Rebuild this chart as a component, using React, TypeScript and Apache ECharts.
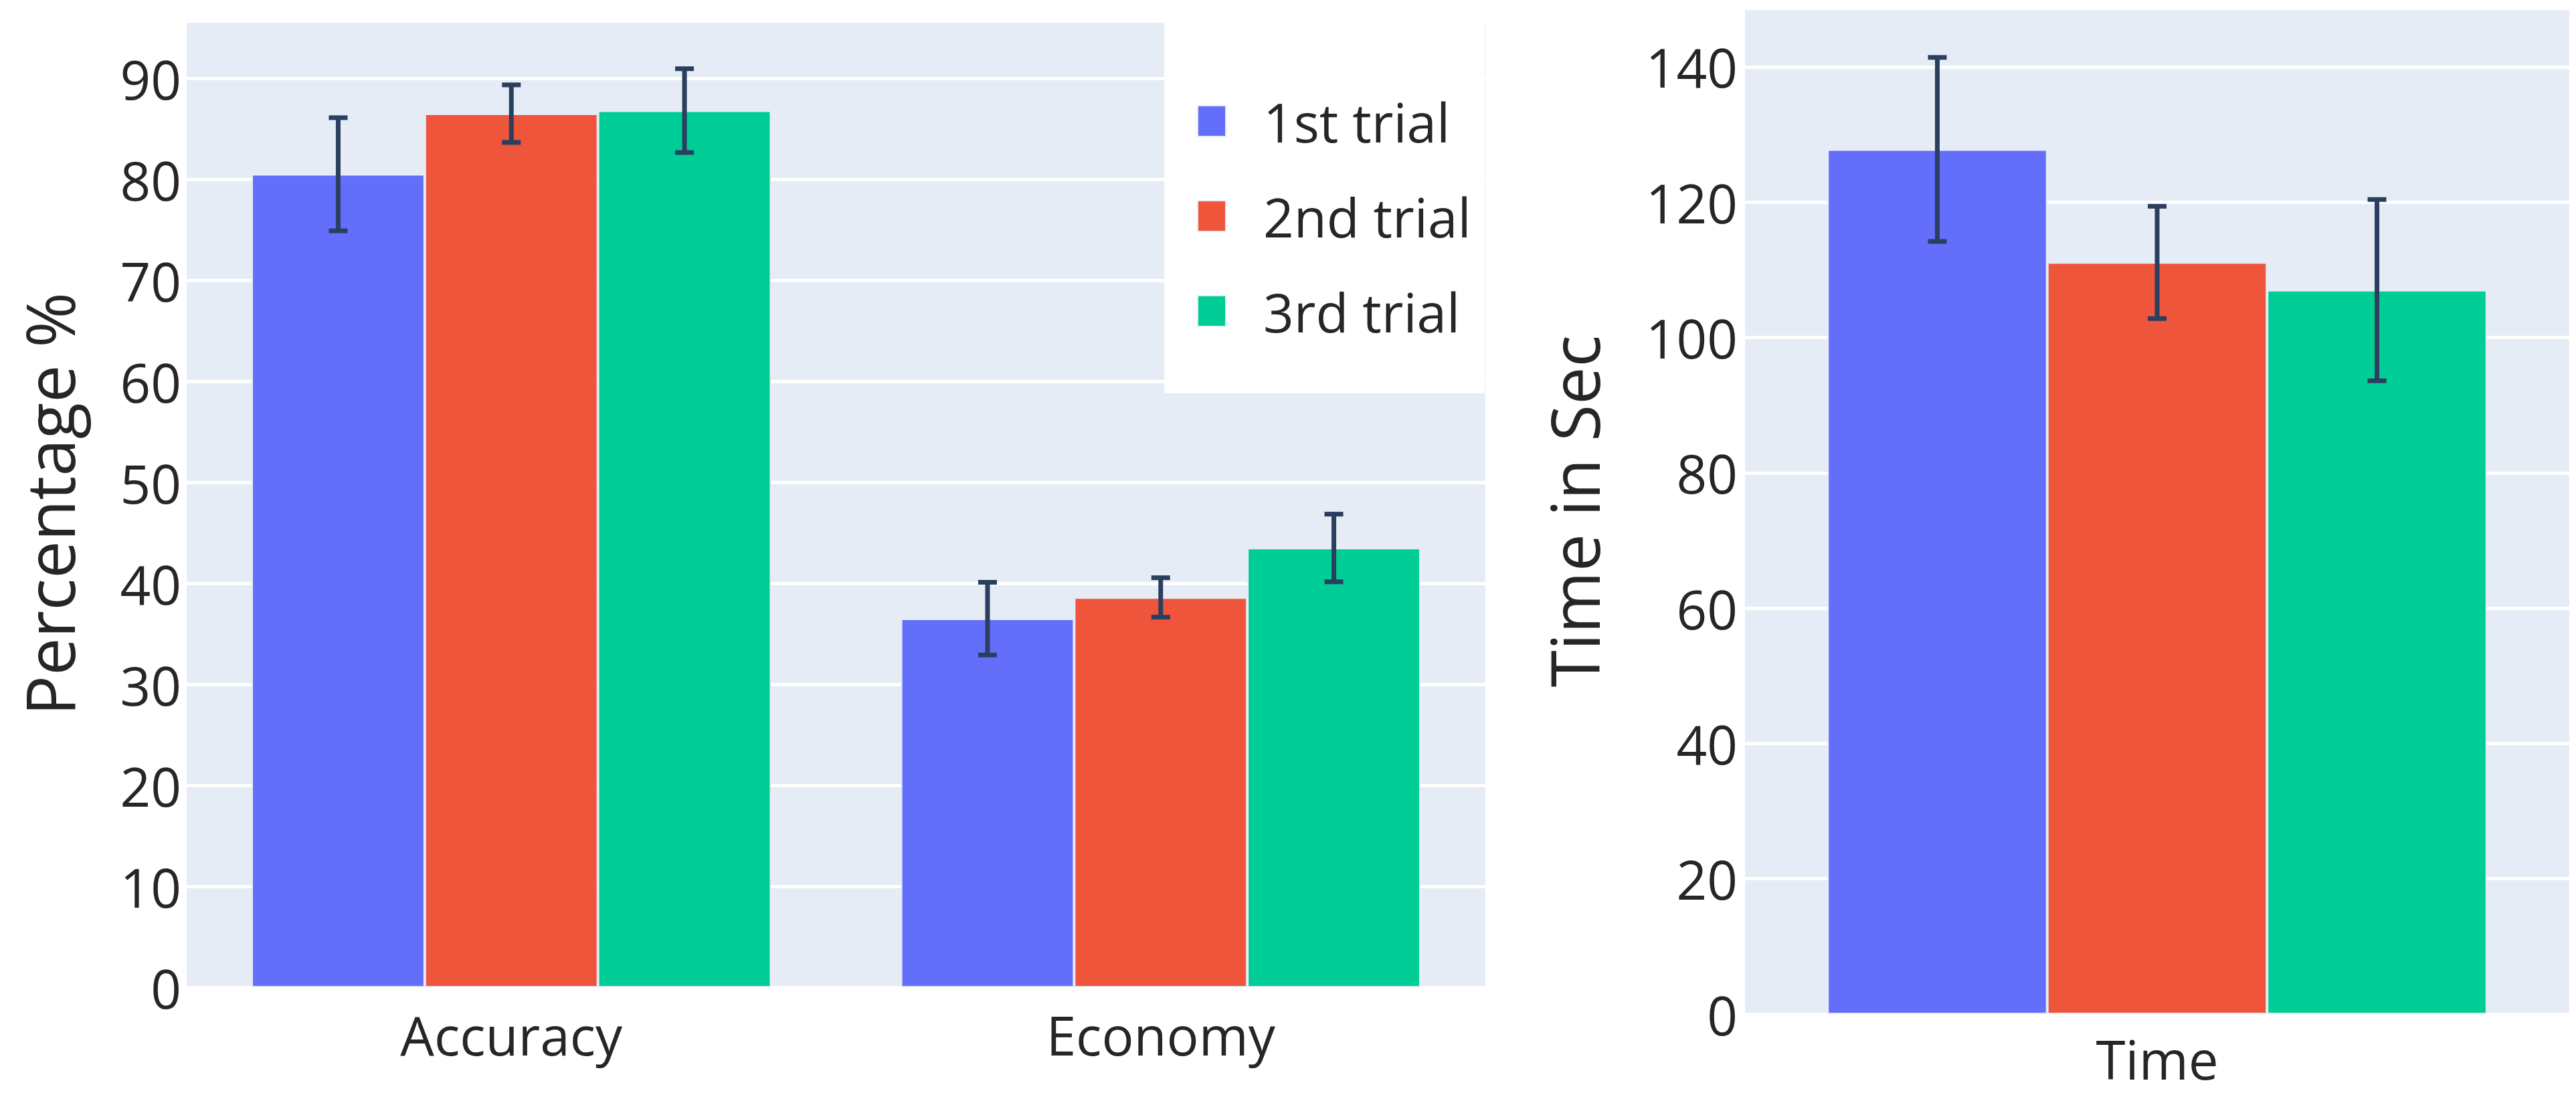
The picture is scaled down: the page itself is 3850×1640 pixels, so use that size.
import React, { useEffect, useRef } from "react";
import * as echarts from "echarts";

const categoriesLeft = ["Accuracy", "Economy"];
const categoriesRight = ["Time"];
const trialNames = ["1st trial", "2nd trial", "3rd trial"];
const trialColors = ["#636EFA", "#EF553B", "#00CC96"];

const trial1Pct = [80.5, 36.5];
const trial1PctErr = [5.6, 3.6];
const trial2Pct = [86.5, 38.6];
const trial2PctErr = [2.85, 1.95];
const trial3Pct = [86.8, 43.5];
const trial3PctErr = [4.15, 3.35];

const timeMeans = [127.8, 111.1, 107.0];
const timeErrs = [13.6, 8.3, 13.4];

const leftTicks = { min: 0, max: 95.7, interval: 10 };
const rightTicks = { min: 0, max: 148.7, interval: 20 };

const TICK_FONT = "'Open Sans', sans-serif";
const TITLE_FONT = "'Open Sans', sans-serif";
const TEXT_COLOR = "#262626";
const ERR_COLOR = "#2a3f5f";
const TICK_SIZE = 80;

function errorRenderer(seriesPos: number, nSeries: number) {
  return (params: any, api: any) => {
    const cat = api.value(0);
    const v = api.value(1);
    const e = api.value(2);
    const band = api.size([1, 0])[0];
    const bw = (band * 0.8) / nSeries;
    const off = (seriesPos - (nSeries - 1) / 2) * bw;
    const top = api.coord([cat, v + e]);
    const bot = api.coord([cat, v - e]);
    const x = top[0] + off;
    const cap = 14;
    const style = { stroke: ERR_COLOR, lineWidth: 7 };
    return {
      type: "group",
      children: [
        { type: "line", shape: { x1: x, y1: top[1], x2: x, y2: bot[1] }, style },
        { type: "line", shape: { x1: x - cap, y1: top[1], x2: x + cap, y2: top[1] }, style },
        { type: "line", shape: { x1: x - cap, y1: bot[1], x2: x + cap, y2: bot[1] }, style },
      ],
    };
  };
}

export default function App() {
  const ref = useRef<HTMLDivElement>(null);
  useEffect(() => {
    if (!ref.current) return;
    const chart = echarts.init(ref.current, undefined, { renderer: "svg" });

    const leftVals = [trial1Pct, trial2Pct, trial3Pct];
    const leftErrs = [trial1PctErr, trial2PctErr, trial3PctErr];

    const series: any[] = [];
    trialNames.forEach((name, i) => {
      series.push({
        name,
        type: "bar",
        xAxisIndex: 0,
        yAxisIndex: 0,
        data: leftVals[i],
        barGap: "0%",
        barCategoryGap: "20%",
        itemStyle: { color: trialColors[i], borderColor: "#E5ECF6", borderWidth: 2 },
      });
    });
    trialNames.forEach((name, i) => {
      series.push({
        name,
        type: "bar",
        xAxisIndex: 1,
        yAxisIndex: 1,
        data: [timeMeans[i]],
        barGap: "0%",
        barCategoryGap: "20%",
        itemStyle: { color: trialColors[i], borderColor: "#E5ECF6", borderWidth: 2 },
      });
    });
    trialNames.forEach((name, i) => {
      series.push({
        type: "custom",
        xAxisIndex: 0,
        yAxisIndex: 0,
        z: 5,
        renderItem: errorRenderer(i, 3),
        encode: { x: 0, y: 1 },
        data: leftVals[i].map((v, k) => [k, v, leftErrs[i][k]]),
      });
      series.push({
        type: "custom",
        xAxisIndex: 1,
        yAxisIndex: 1,
        z: 5,
        renderItem: errorRenderer(i, 3),
        encode: { x: 0, y: 1 },
        data: [[0, timeMeans[i], timeErrs[i]]],
      });
    });

    const yAxisCommon = {
      type: "value",
      axisLine: { show: false },
      axisTick: { show: false },
      splitLine: { show: true, lineStyle: { color: "#ffffff", width: 5 } },
      nameLocation: "middle",
      nameRotate: 90,
      nameTextStyle: { fontFamily: TITLE_FONT, fontSize: 100, color: TEXT_COLOR, lineHeight: 100 },
    };
    const xAxisCommon = {
      type: "category",
      axisLine: { show: false },
      axisTick: { show: false },
      splitLine: { show: false },
    };

    const legendBase = {
      orient: "vertical",
      left: 1784,
      itemWidth: 42,
      itemHeight: 46,
      icon: "rect",
      z: 20,
      textStyle: {
        fontFamily: TICK_FONT,
        fontSize: TICK_SIZE,
        color: TEXT_COLOR,
        lineHeight: 46,
        height: 46,
        padding: [0, 0, 0, 51],
      },
    };
    const legendTops = [136, 278, 420];

    chart.setOption({
      animation: false,
      backgroundColor: "#ffffff",
      grid: [
        { left: 279, top: 31, width: 1941, height: 1445, show: true, backgroundColor: "#E5ECF6", borderWidth: 0 },
        { left: 2608, top: 12, width: 1232, height: 1504, show: true, backgroundColor: "#E5ECF6", borderWidth: 0 },
      ],
      xAxis: [
        {
          ...xAxisCommon,
          gridIndex: 0,
          data: categoriesLeft,
          axisLabel: { fontFamily: TICK_FONT, fontSize: TICK_SIZE, color: TEXT_COLOR, margin: 30, lineHeight: 80 },
        },
        {
          ...xAxisCommon,
          gridIndex: 1,
          data: categoriesRight,
          axisLabel: { fontFamily: TICK_FONT, fontSize: TICK_SIZE, color: TEXT_COLOR, margin: 26, lineHeight: 80 },
        },
      ],
      yAxis: [
        {
          ...yAxisCommon,
          gridIndex: 0,
          min: leftTicks.min,
          max: leftTicks.max,
          interval: leftTicks.interval,
          name: "Percentage %",
          nameGap: 156,
          axisLabel: { fontFamily: TICK_FONT, fontSize: TICK_SIZE, color: TEXT_COLOR, margin: 8, showMaxLabel: false },
        },
        {
          ...yAxisCommon,
          gridIndex: 1,
          min: rightTicks.min,
          max: rightTicks.max,
          interval: rightTicks.interval,
          name: "Time in Sec",
          nameGap: 206,
          axisLabel: { fontFamily: TICK_FONT, fontSize: TICK_SIZE, color: TEXT_COLOR, margin: 11, showMaxLabel: false },
        },
      ],
      legend: trialNames.map((n, i) => ({ ...legendBase, top: legendTops[i], data: [n] })),
      graphic: [
        {
          type: "rect",
          z: 10,
          shape: { x: 1740, y: 31, width: 479, height: 557 },
          style: { fill: "#ffffff" },
        },
      ],
      series,
    });

    return () => chart.dispose();
  }, []);

  return (
    <div style={{ position: "fixed", left: 0, top: 0, width: 3850, height: 1640, overflow: "hidden" }}>
      <div ref={ref} style={{ width: 3850, height: 1640 }} />
    </div>
  );
}
